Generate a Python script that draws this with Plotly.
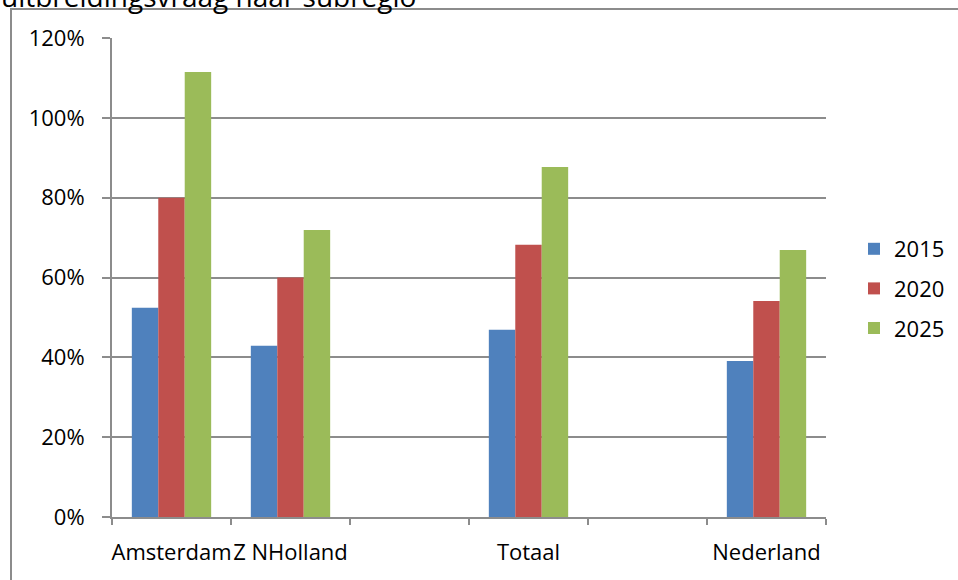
"""
Uitbreidingsvraag naar subregio - staafdiagram.
"""
import plotly.graph_objects as go

# Categorieën (lege plekken zitten ook in de as)
categories = ["Amsterdam", "Z NHolland", " ", "Totaal", "  ", "Nederland"]
years = ["2015", "2020", "2025"]

vals_2015 = [0.524, 0.429, None, 0.469, None, 0.391]
vals_2020 = [0.80, 0.60, None, 0.682, None, 0.541]
vals_2025 = [1.115, 0.719, None, 0.877, None, 0.669]

colors = ["#4f81bd", "#c0504d", "#9bbb59"]
font_family = "Open Sans"
grid_color = "#8c8c8c"

# Plotgebied in pixels
W, H = 958, 580
L, R, T, B = 112, 132, 38, 63
pw = W - L - R
ph = H - T - B

fig = go.Figure()
for year, vals, col in zip(years, [vals_2015, vals_2020, vals_2025], colors):
    fig.add_trace(
        go.Bar(
            x=categories,
            y=vals,
            name=year,
            marker=dict(color=col, line=dict(width=0)),
            legendgroup=year,
        )
    )

fig.update_layout(
    width=W,
    height=H,
    margin=dict(l=L, r=R, t=T, b=B, autoexpand=False),
    plot_bgcolor="white",
    paper_bgcolor="white",
    barmode="group",
    bargap=1.5 / 4.5,
    bargroupgap=0,
    font=dict(family=font_family, size=22, color="black"),
    legend=dict(
        x=(854 - L) / pw,
        y=1 - (248 - 20 - T) / ph,
        xanchor="left",
        yanchor="top",
        font=dict(size=22),
        tracegroupgap=8,
        itemwidth=30,
        bgcolor="rgba(0,0,0,0)",
    ),
    showlegend=True,
)

fig.update_xaxes(
    type="category",
    categoryorder="array",
    categoryarray=categories,
    tickson="boundaries",
    ticks="outside",
    ticklen=6,
    tickwidth=2,
    tickcolor=grid_color,
    tickangle=0,
    ticklabelstandoff=15,
    showline=True,
    linecolor=grid_color,
    linewidth=2,
    showgrid=False,
    tickfont=dict(size=22),
)

fig.update_yaxes(
    range=[0, 1.2],
    dtick=0.2,
    tickformat=".0%",
    ticks="outside",
    ticklen=8,
    tickwidth=2,
    tickcolor=grid_color,
    ticklabelstandoff=13,
    showline=True,
    linecolor=grid_color,
    linewidth=2,
    showgrid=True,
    gridcolor=grid_color,
    gridwidth=2,
    zeroline=False,
    tickfont=dict(size=22),
)

# Kader om de grafiek (rechts en onder buiten beeld)
fig.add_shape(
    type="rect",
    xref="paper",
    yref="paper",
    x0=(11 - L) / pw,
    x1=(970 - L) / pw,
    y0=1 + (T - 9) / ph,
    y1=-(H + 20 - T - ph) / ph,
    line=dict(color=grid_color, width=2),
    layer="below",
)

# Titel (bovenkant valt buiten beeld)
fig.add_annotation(
    text="uitbreidingsvraag naar subregio",
    xref="paper",
    yref="paper",
    x=(-1 - L) / pw,
    y=1 + (T - 17) / ph,
    xanchor="left",
    yanchor="bottom",
    showarrow=False,
    font=dict(size=28, family=font_family),
)

# Standaardmarge van de pagina weghalen
fig.write_html(
    "out.html",
    config={"displayModeBar": False},
    post_script="document.body.style.margin='0';",
)
